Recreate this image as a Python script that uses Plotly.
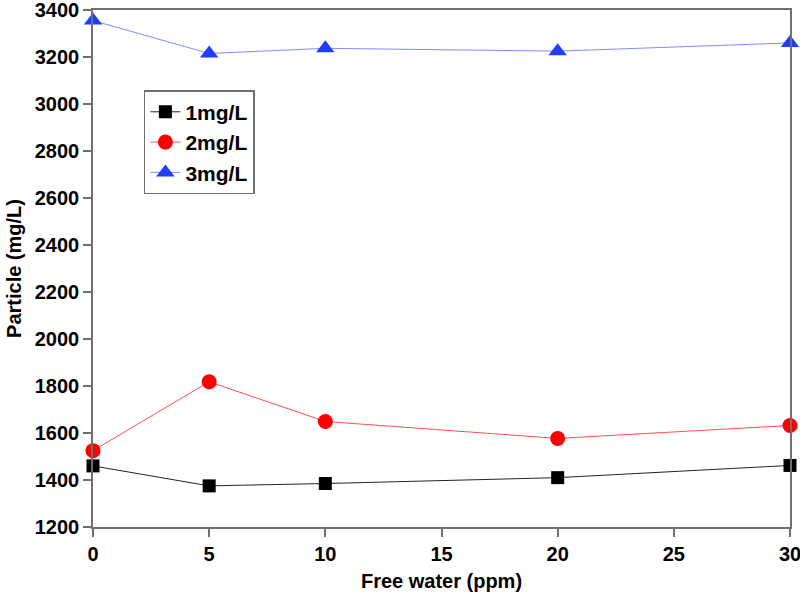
import plotly.graph_objects as go

x_vals = [0, 5, 10, 20, 30]
s1 = [1460, 1375, 1385, 1410, 1462]
s2 = [1525, 1818, 1649, 1577, 1632]
s3 = [3355, 3215, 3237, 3225, 3260]
names = ["1mg/L", "2mg/L", "3mg/L"]

FONT = "Arial, Liberation Sans, sans-serif"

fig = go.Figure()
fig.add_trace(go.Scatter(x=x_vals, y=s1, name=names[0], mode="lines+markers",
                         line=dict(color="#222222", width=1), cliponaxis=False,
                         marker=dict(symbol="square", size=13, color="#000000")))
fig.add_trace(go.Scatter(x=x_vals, y=s2, name=names[1], mode="lines+markers",
                         line=dict(color="#ff5050", width=1), cliponaxis=False,
                         marker=dict(symbol="circle", size=15, color="#ff0000")))
fig.add_trace(go.Scatter(x=x_vals, y=s3, name=names[2], mode="lines+markers",
                         line=dict(color="#7b8fff", width=1), cliponaxis=False,
                         marker=dict(symbol="triangle-up", size=16, color="#1f3cff")))

axis_common = dict(showline=True, linecolor="#707070", linewidth=1.5, mirror=True,
                   ticks="outside", ticklen=8, tickcolor="#707070", tickwidth=1.5,
                   showgrid=False, zeroline=False, automargin=False,
                   ticklabeloverflow="allow",
                   tickfont=dict(family=FONT, size=20, color="black", weight="bold"))

fig.update_layout(
    width=800, height=596,
    margin=dict(l=93, r=10, t=10, b=69),
    paper_bgcolor="white", plot_bgcolor="white",
    xaxis=dict(range=[0, 30], tickvals=[0, 5, 10, 15, 20, 25, 30],
               title=dict(text="Free water (ppm)", standoff=10,
                          font=dict(family=FONT, size=20, color="black", weight="bold")),
               **axis_common),
    yaxis=dict(range=[1200, 3400], tickvals=list(range(1200, 3401, 200)),
               title=dict(text="Particle (mg/L)", standoff=8,
                          font=dict(family=FONT, size=20, color="black", weight="bold")),
               **axis_common),
    legend=dict(x=0.073, y=0.845, xanchor="left", yanchor="top",
                bordercolor="#707070", borderwidth=1.5, bgcolor="white",
                font=dict(family=FONT, size=21, color="black", weight="bold"),
                tracegroupgap=4),
    showlegend=True,
)

fig.write_html("out.html", config={"displayModeBar": False},
               post_script="document.body.style.margin='0';document.body.style.overflow='hidden';")
